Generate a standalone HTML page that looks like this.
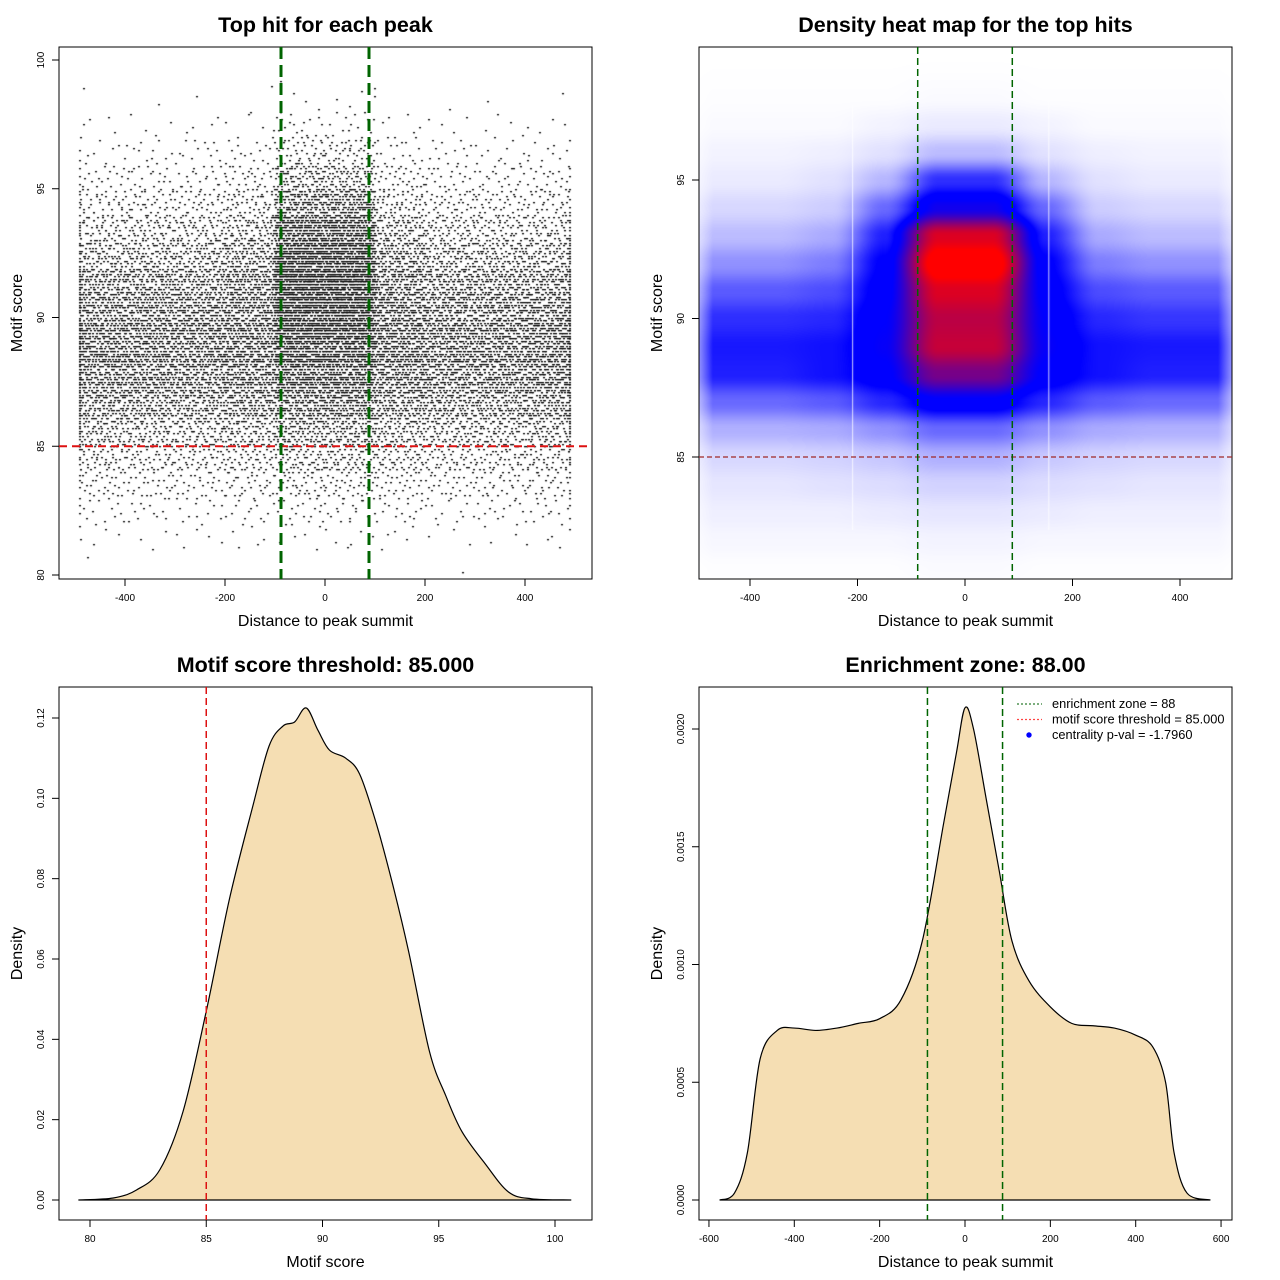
<!DOCTYPE html>
<html><head><meta charset="utf-8"><style>
body{margin:0;background:#fff;width:1280px;height:1280px;overflow:hidden;position:relative;font-family:"Liberation Sans",sans-serif}
canvas{position:absolute}
svg{position:absolute;left:0;top:0}
</style></head><body>
<canvas id="scat" width="533" height="532" style="left:59px;top:47px"></canvas>
<canvas id="heat" width="533" height="532" style="left:699px;top:47px"></canvas>
<svg id="s" width="1280" height="1280"></svg>
<script>
// ---- Panel 1 data: scatter point counts per bin (rows score 80..99, cols x -500..400 step 100)
const scatterScoreBins=[80,81,82,83,84,85,86,87,88,89,90,91,92,93,94,95,96,97,98,99];
const scatterDistBins=[-500,-400,-300,-200,-100,0,100,200,300,400];
const scatterCounts=[
[1,0,0,0,0,0,0,1,0,0],
[5,3,5,5,6,6,5,3,3,5],
[15,12,12,14,18,18,15,12,14,15],
[30,27,27,30,38,38,30,27,27,30],
[52,48,48,52,68,68,57,48,48,52],
[82,75,75,82,105,105,87,75,75,82],
[128,120,120,128,165,165,135,120,120,128],
[165,158,158,165,225,225,172,158,158,165],
[188,180,177,188,270,270,195,180,180,188],
[180,177,174,188,315,315,195,177,177,180],
[158,158,158,172,345,345,180,158,158,158],
[128,128,128,150,360,360,158,128,128,128],
[90,90,93,120,330,330,128,93,90,90],
[60,60,63,82,255,255,90,63,60,60],
[38,38,39,52,165,165,57,39,38,38],
[21,21,22,30,90,90,33,22,21,21],
[10,10,12,15,42,42,16,12,10,10],
[4,4,4,6,15,15,6,4,4,4],
[1,1,1,1,4,4,1,1,1,1],
[0,0,0,0,1,0,0,0,0,0]];
// ---- Panel 2 data: density grid (rows score 81..98, cols x)
const heatDist=[-450,-350,-250,-150,-50,50,150,250,350,450];
const heatScore=[81,82,83,84,85,86,87,88,89,90,91,92,93,94,95,96,97,98];
const heatDensity=[
[0.01,0.01,0.01,0.01,0.02,0.02,0.01,0.01,0.01,0.01],
[0.03,0.03,0.03,0.03,0.04,0.04,0.03,0.03,0.03,0.03],
[0.05,0.05,0.05,0.06,0.07,0.07,0.06,0.05,0.05,0.05],
[0.07,0.07,0.08,0.09,0.11,0.11,0.09,0.08,0.07,0.07],
[0.1,0.1,0.11,0.13,0.17,0.17,0.13,0.11,0.1,0.1],
[0.17,0.17,0.18,0.22,0.28,0.28,0.22,0.18,0.17,0.17],
[0.28,0.28,0.3,0.37,0.46,0.46,0.37,0.3,0.28,0.28],
[0.38,0.38,0.4,0.46,0.68,0.68,0.46,0.4,0.38,0.38],
[0.39,0.39,0.4,0.48,0.82,0.82,0.48,0.4,0.39,0.39],
[0.36,0.36,0.37,0.47,0.8,0.8,0.47,0.37,0.35,0.35],
[0.3,0.3,0.32,0.45,0.86,0.86,0.45,0.32,0.3,0.3],
[0.22,0.22,0.25,0.43,0.98,0.98,0.43,0.25,0.22,0.22],
[0.15,0.15,0.18,0.38,0.86,0.86,0.38,0.18,0.15,0.15],
[0.1,0.1,0.12,0.28,0.5,0.5,0.28,0.12,0.1,0.1],
[0.06,0.06,0.08,0.16,0.36,0.36,0.16,0.08,0.06,0.06],
[0.04,0.04,0.05,0.08,0.15,0.15,0.08,0.05,0.04,0.04],
[0.02,0.02,0.02,0.04,0.06,0.06,0.04,0.02,0.02,0.02],
[0.01,0.01,0.01,0.01,0.02,0.02,0.01,0.01,0.01,0.01]];
// ---- Panel 3 data: motif score density
const scoreX=[79.5,81,82,83,84,85,86,87,87.7,88.3,88.8,89.3,89.8,90.3,91,91.6,92.3,93,93.7,94.6,95.3,96,97,98,99,100.7];
const scoreY=[0,0.0005,0.0025,0.0075,0.022,0.047,0.075,0.098,0.113,0.118,0.119,0.1225,0.117,0.112,0.110,0.106,0.094,0.079,0.062,0.037,0.026,0.017,0.009,0.002,0.0003,0];
// ---- Panel 4 data: distance density
const distX=[-575,-540,-510,-480,-440,-400,-350,-300,-250,-200,-150,-100,-50,-20,0,20,50,80,110,150,200,250,300,350,400,440,470,490,520,575];
const distY=[0,0.00003,0.0002,0.0006,0.00072,0.00073,0.00072,0.00073,0.00075,0.00077,0.00085,0.0011,0.0016,0.0019,0.00209,0.002,0.0017,0.0014,0.0011,0.00093,0.00082,0.00075,0.00074,0.00073,0.0007,0.00065,0.0005,0.0002,0.00003,0];
const enrichment=88, threshold=85;

const NS="http://www.w3.org/2000/svg", S=document.getElementById('s');
function el(t,a,p){const e=document.createElementNS(NS,t);for(const k in a)e.setAttribute(k,a[k]);(p||S).appendChild(e);return e;}
function txt(x,y,s,size,opt){opt=opt||{};const e=el('text',{x:x,y:y,'font-size':size,'text-anchor':'middle','font-family':'Liberation Sans, sans-serif',fill:'#000'});if(opt.bold)e.setAttribute('font-weight','bold');if(opt.rot)e.setAttribute('transform','rotate(-90 '+x+' '+y+')');e.textContent=s;return e;}
function lin(d0,d1,p0,p1){return v=>p0+(v-d0)*(p1-p0)/(d1-d0);}
function axes(box,X,Y,xt,yt,fmtx,fmty,title,xl,yl,nm){
  const f=el('rect',{x:box[0],y:box[1],width:box[2]-box[0],height:box[3]-box[1],fill:'none',stroke:'#000','stroke-width':1});
  
  const gx=el('g',{});
  xt.forEach(v=>{const px=X(v);el('line',{x1:px,x2:px,y1:box[3],y2:box[3]+7,stroke:'#000'},gx);const t=txt(px,box[3]+22,fmtx(v),10);gx.appendChild(t);});
  el('line',{x1:X(xt[0]),x2:X(xt[xt.length-1]),y1:box[3],y2:box[3],stroke:'#000'},gx);
  const gy=el('g',{});
  yt.forEach(v=>{const py=Y(v);el('line',{x1:box[0]-7,x2:box[0],y1:py,y2:py,stroke:'#000'},gy);const t=txt(box[0]-15,py,fmty(v),10,{rot:1});gy.appendChild(t);});
  el('line',{x1:box[0],x2:box[0],y1:Y(yt[0]),y2:Y(yt[yt.length-1]),stroke:'#000'},gy);
  const cx=(box[0]+box[2])/2;
  const tt=txt(cx,32,title,21.5,{bold:1});tt.setAttribute('y',box[1]-15);
  const xa=txt(cx,box[3]+47,xl,16);
  const ya=txt(box[0]-37,(box[1]+box[3])/2,yl,16,{rot:1});
}
const id=v=>String(v);

// ---------- Panel 1
{
const box=[59,47,592,579];const X=lin(0,400,325,525),Y=lin(80,100,575,60);
const c=document.getElementById('scat').getContext('2d');c.fillStyle='#000';
function halton(i,b){let f=1,r=0;while(i>0){f/=b;r+=f*(i%b);i=Math.floor(i/b);}return r;}
let k=1;
scatterCounts.forEach((row,ri)=>row.forEach((n,ci)=>{for(let j=0;j<n;j++){k++;
  const x=Math.min(490,Math.max(-490,scatterDistBins[ci]+halton(k,2)*100));
  const sc=Math.round((scatterScoreBins[ri]+halton(k,3))*10)/10;
  c.fillRect(Math.round(X(x)-59-1),Math.round(Y(sc)-47),2,1.3);}}));
axes(box,X,Y,[-400,-200,0,200,400],[80,85,90,95,100],id,id,'Top hit for each peak','Distance to peak summit','Motif score','scatter');
let l=el('line',{x1:59,x2:592,y1:Y(threshold),y2:Y(threshold),stroke:'#dd1111','stroke-width':2,'stroke-dasharray':'8,5'});
[-enrichment,enrichment].forEach(v=>{const g=el('line',{x1:X(v),x2:X(v),y1:47,y2:579,stroke:'#006400','stroke-width':3,'stroke-dasharray':'12,6'});});
}
// ---------- Panel 2
{
const box=[699,47,1232,579];const X=lin(0,400,965,1180),Y=lin(85,95,457,180);
const c=document.getElementById('heat').getContext('2d');const img=c.createImageData(533,532);
const sm=t=>t*t*(3-2*t);
function samp(xv,yv){let fi=(xv-heatDist[0])/100,fj=(yv-heatScore[0]);
  fi=Math.max(0,Math.min(heatDist.length-1.001,fi));
  if(fj<0){const t=Math.max(0,1+fj/1.5);return t*samp2(fi,0);} if(fj>heatScore.length-1){const t=Math.max(0,1-(fj-heatScore.length+1)/1.5);return t*samp2(fi,heatScore.length-1.001);}
  return samp2(fi,Math.min(fj,heatScore.length-1.001));}
function samp2(fi,fj){const i=Math.floor(fi),j=Math.floor(fj),a=sm(fi-i),b=sm(fj-j);
  const r0=heatDensity[j],r1=heatDensity[Math.min(j+1,heatScore.length-1)];
  const i1=Math.min(i+1,heatDist.length-1);
  return (r0[i]*(1-a)+r0[i1]*a)*(1-b)+(r1[i]*(1-a)+r1[i1]*a)*b;}
const Xi=lin(965,1180,0,400),Yi=lin(457,180,85,95);
for(let py=0;py<532;py++)for(let px=0;px<533;px++){
  let xv=Xi(px+699),yv=Yi(py+47);let d=samp(xv,yv);
  if(Math.abs(xv)>470)d*=Math.max(0,1-(Math.abs(xv)-470)/60);
  let r,g,b;if(d<0.42){const t=Math.pow(d/0.42,1.3);r=255*(1-t);g=255*(1-t);b=255;}else{const t=Math.min(1,Math.max(0,(d-0.47)/0.45));r=255*t;g=0;b=255*(1-t);}
  const o=(py*533+px)*4;img.data[o]=r;img.data[o+1]=g;img.data[o+2]=b;img.data[o+3]=255;}
c.putImageData(img,0,0);
c.fillStyle='rgba(255,255,255,0.8)';c.fillRect(X(-210)-699,105-47,1,425);c.fillRect(X(155)-699,95-47,1,435);
axes(box,X,Y,[-400,-200,0,200,400],[85,90,95],id,id,'Density heat map for the top hits','Distance to peak summit','Motif score','heatmap');
let l=el('line',{x1:699,x2:1232,y1:Y(threshold),y2:Y(threshold),stroke:'#a02828','stroke-width':1.3,'stroke-dasharray':'5,3'});
[-enrichment,enrichment].forEach(v=>{const g=el('line',{x1:X(v),x2:X(v),y1:47,y2:579,stroke:'#006400','stroke-width':1.5,'stroke-dasharray':'7,4'});});
}
function smoothPath(xs,ys,X,Y){const P=xs.map((x,i)=>[X(x),Y(ys[i])]);let d='M'+P[0][0]+','+P[0][1];
  for(let i=0;i<P.length-1;i++){const p0=P[Math.max(0,i-1)],p1=P[i],p2=P[i+1],p3=P[Math.min(P.length-1,i+2)];
  d+=' C'+(p1[0]+(p2[0]-p0[0])/6)+','+(p1[1]+(p2[1]-p0[1])/6)+' '+(p2[0]-(p3[0]-p1[0])/6)+','+(p2[1]-(p3[1]-p1[1])/6)+' '+p2[0]+','+p2[1];}return d;}
// ---------- Panel 3
{
const box=[59,687,592,1220];const X=lin(80,100,90,555),Y=lin(0,0.12,1200,718);
const p=el('path',{d:smoothPath(scoreX,scoreY,X,Y)+' Z',fill:'#f5deb3',stroke:'#000','stroke-width':1.2});
axes(box,X,Y,[80,85,90,95,100],[0,0.02,0.04,0.06,0.08,0.1,0.12],id,v=>v.toFixed(2),'Motif score threshold: 85.000','Motif score','Density','score-density');
const r=el('line',{x1:X(threshold),x2:X(threshold),y1:687,y2:1220,stroke:'#dd1111','stroke-width':1.5,'stroke-dasharray':'7,4'});
}
// ---------- Panel 4
{
const box=[699,687,1232,1220];const X=lin(0,400,965,1135.7),Y=lin(0,0.002,1200,729);
const p=el('path',{d:smoothPath(distX,distY,X,Y)+' Z',fill:'#f5deb3',stroke:'#000','stroke-width':1.2});
axes(box,X,Y,[-600,-400,-200,0,200,400,600],[0,0.0005,0.001,0.0015,0.002],id,v=>v.toFixed(4),'Enrichment zone: 88.00','Distance to peak summit','Density','distance-density');
[-enrichment,enrichment].forEach(v=>{const g=el('line',{x1:X(v),x2:X(v),y1:687,y2:1220,stroke:'#006400','stroke-width':1.5,'stroke-dasharray':'7,4'});});
const lg=el('g',{});
const items=[['enrichment zone = 88','#2e7d32'],['motif score threshold = 85.000','#ff4444'],['centrality p-val = -1.7960','blue']];
items.forEach((it,i)=>{const y=704+i*15.5;
  if(i<2)el('line',{x1:1017,x2:1042,y1:y,y2:y,stroke:it[1],'stroke-width':1.3,'stroke-dasharray':'2,2'},lg);else el('circle',{cx:1029,cy:y,r:2.7,fill:'blue'},lg);
  const t=el('text',{x:1052,y:y+4,'font-size':12.8,'font-family':'Liberation Sans, sans-serif'},lg);t.textContent=it[0];});
}
</script>
</body></html>
